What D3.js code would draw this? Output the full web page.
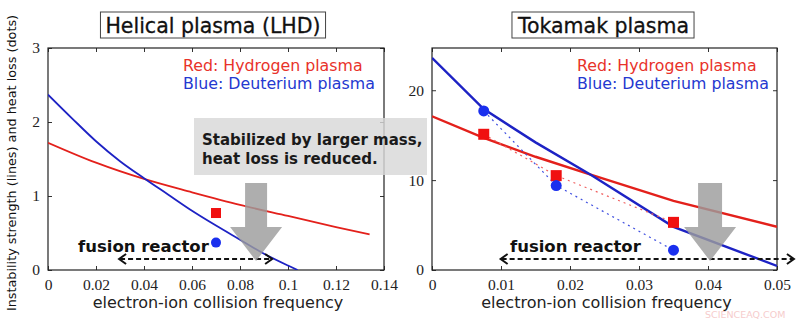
<!DOCTYPE html>
<html>
<head>
<meta charset="utf-8">
<script src="https://cdn.jsdelivr.net/npm/d3@7"></script>
<style>
  body { margin: 0; background: #fff; }
  svg { display: block; }
</style>
</head>
<body>
<svg id="chart" width="800" height="325"></svg>
<script>
// Helical (LHD) panel
const helicalX = [0, 0.01, 0.02, 0.03, 0.04, 0.05, 0.06, 0.07, 0.08, 0.09, 0.1, 0.104];
const helicalBlue = [2.37, 2.05, 1.74, 1.47, 1.24, 1.02, 0.80, 0.60, 0.41, 0.22, 0.06, 0];
const helicalRedX = [0, 0.02, 0.04, 0.06, 0.08, 0.1, 0.12, 0.134];
const helicalRed = [1.72, 1.45, 1.23, 1.05, 0.88, 0.73, 0.58, 0.48];
const helicalDotX = [0.07];
const helicalDotRed = [0.77];
const helicalDotBlue = [0.37];
const helicalXTicks = [0, 0.02, 0.04, 0.06, 0.08, 0.1, 0.12, 0.14];
const helicalYTicks = [0, 1, 2, 3];

// Tokamak panel
const tokX = [0, 0.0075, 0.015, 0.023, 0.035, 0.05];
const tokBlue = [23.6, 17.9, 14.2, 10.6, 4.8, 0.45];
const tokRed = [17.1, 14.7, 12.6, 10.6, 7.7, 4.8];
const tokDotX = [0.0075, 0.018, 0.035];
const tokDotRed = [15.1, 10.5, 5.3];
const tokDotBlue = [17.7, 9.4, 2.2];
const tokXTicks = [0, 0.01, 0.02, 0.03, 0.04, 0.05];
const tokYTicks = [0, 10, 20];

const RED = '#e3201b', BLUE = '#1d22c4';
const DOT_RED = '#f01010', DOT_BLUE = '#1a2fee';
const serif = '"Liberation Serif", "DejaVu Serif", serif';
const sans = '"DejaVu Sans", "Liberation Sans", sans-serif';

const svg = d3.select('#chart');

function panel(cfg) {
    const x = d3.scaleLinear().domain(cfg.xDomain).range([cfg.left, cfg.right]);
    const y = d3.scaleLinear().domain(cfg.yDomain).range([270, 48]);
    const g = svg.append('g');
    const fmt = d3.format('~g');

    // frame with inward ticks on all four sides
    g.append('g').attr('transform', 'translate(0,270)')
        .call(d3.axisBottom(x).tickValues(cfg.xTicks).tickSize(-4).tickPadding(9).tickFormat(fmt))
        .call(a => a.select('.domain').remove());
    g.append('g').attr('transform', 'translate(0,48)')
        .call(d3.axisTop(x).tickValues(cfg.xTicks).tickSize(-4).tickFormat(''))
        .call(a => a.select('.domain').remove());
    g.append('g').attr('transform', `translate(${cfg.left},0)`)
        .call(d3.axisLeft(y).tickValues(cfg.yTicks).tickSize(-4).tickPadding(8).tickFormat(fmt))
        .call(a => a.select('.domain').remove());
    g.append('g').attr('transform', `translate(${cfg.right},0)`)
        .call(d3.axisRight(y).tickValues(cfg.yTicks).tickSize(-4).tickFormat(''))
        .call(a => a.select('.domain').remove());
    g.selectAll('.tick line').attr('stroke', '#333');
    g.selectAll('.tick text').attr('font-family', serif).attr('font-size', 15.5).attr('fill', '#222');
    g.append('rect')
        .attr('x', cfg.left).attr('y', 48)
        .attr('width', cfg.right - cfg.left).attr('height', 222)
        .attr('fill', 'none').attr('stroke', '#222').attr('stroke-width', 1.2);

    const clip = 'clip-' + cfg.id;
    g.append('clipPath').attr('id', clip).append('rect')
        .attr('x', cfg.left).attr('y', 48).attr('width', cfg.right - cfg.left).attr('height', 222);

    const line = d3.line().x(d => x(d[0])).y(d => y(d[1])).curve(cfg.curve);
    g.append('path').datum(d3.zip(cfg.redX, cfg.red))
        .attr('d', line).attr('fill', 'none').attr('stroke', RED)
        .attr('stroke-width', cfg.lw).attr('clip-path', `url(#${clip})`);
    g.append('path').datum(d3.zip(cfg.blueX, cfg.blue))
        .attr('d', line).attr('fill', 'none').attr('stroke', BLUE)
        .attr('stroke-width', cfg.lw).attr('clip-path', `url(#${clip})`);

    // dotted links between measured points
    if (cfg.dotLinks) {
        const lin = d3.line().x(d => x(d[0])).y(d => y(d[1]));
        g.append('path').datum(d3.zip(cfg.dotX, cfg.dotRed)).attr('d', lin)
            .attr('fill', 'none').attr('stroke', '#f06060').attr('stroke-width', 1.2).attr('stroke-dasharray', '2,4');
        g.append('path').datum(d3.zip(cfg.dotX, cfg.dotBlue)).attr('d', lin)
            .attr('fill', 'none').attr('stroke', '#4050e0').attr('stroke-width', 1.2).attr('stroke-dasharray', '2,4');
    }

    g.selectAll('rect.sq').data(d3.zip(cfg.dotX, cfg.dotRed)).enter().append('rect')
        .attr('class', 'sq')
        .attr('x', d => x(d[0]) - cfg.ms / 2).attr('y', d => y(d[1]) - cfg.ms / 2)
        .attr('width', cfg.ms).attr('height', cfg.ms).attr('fill', DOT_RED);
    g.selectAll('circle.dot').data(d3.zip(cfg.dotX, cfg.dotBlue)).enter().append('circle')
        .attr('class', 'dot')
        .attr('cx', d => x(d[0])).attr('cy', d => y(d[1]))
        .attr('r', cfg.ms / 2).attr('fill', DOT_BLUE);

    // legend
    g.append('text').attr('x', cfg.legendX).attr('y', 71).text('Red: Hydrogen plasma')
        .attr('font-family', sans).attr('font-size', 15.8).attr('fill', '#e8322a');
    g.append('text').attr('x', cfg.legendX).attr('y', 89).text('Blue: Deuterium plasma')
        .attr('font-family', sans).attr('font-size', 15.8).attr('fill', '#2438d0');

    // title in a box
    const titleBox = g.append('rect');
    const title = g.append('text').attr('x', (cfg.left + cfg.right) / 2 + cfg.titleShift).attr('y', 33)
        .attr('text-anchor', 'middle').attr('font-family', sans).attr('font-size', 20.5)
        .attr('fill', '#111').attr('stroke', '#111').attr('stroke-width', 0.3).text(cfg.title);
    const tb = title.node().getBBox();
    titleBox
        .attr('x', tb.x - 5).attr('y', 12).attr('width', tb.width + 10).attr('height', 26)
        .attr('fill', '#fff').attr('stroke', '#444').attr('stroke-width', 1);

    // axis title
    g.append('text').attr('x', (cfg.left + cfg.right) / 2 + 2).attr('y', 308)
        .attr('text-anchor', 'middle').attr('font-family', sans).attr('font-size', 16)
        .attr('fill', '#222').text('electron-ion collision frequency');

    // fusion reactor range
    const ay = 259;
    const x0 = x(cfg.reactor[0]), x1 = x(cfg.reactor[1]);
    g.append('line').attr('x1', x0 + 2).attr('x2', x1 - 2).attr('y1', ay).attr('y2', ay)
        .attr('stroke', '#111').attr('stroke-width', 2).attr('stroke-dasharray', '5,3');
    g.append('path').attr('d', `M${x0 + 8},${ay - 5}L${x0 + 1},${ay}L${x0 + 8},${ay + 5}`)
        .attr('fill', 'none').attr('stroke', '#111').attr('stroke-width', 2);
    g.append('path').attr('d', `M${x1 - 8},${ay - 5}L${x1 - 1},${ay}L${x1 - 8},${ay + 5}`)
        .attr('fill', 'none').attr('stroke', '#111').attr('stroke-width', 2);
    g.append('text').attr('x', x(cfg.reactorText)).attr('y', 252)
        .attr('font-family', sans).attr('font-weight', 'bold').attr('font-size', 16.5)
        .attr('fill', '#111').text('fusion reactor');

    // grey downward arrow
    const cx = x(cfg.arrowX);
    const sw = cfg.shaft / 2, hw = cfg.head / 2;
    g.append('path')
        .attr('d', `M${cx - sw},183L${cx + sw},183L${cx + sw},227L${cx + hw},227L${cx},261L${cx - hw},227L${cx - sw},227Z`)
        .attr('fill', '#9c9c9c').attr('opacity', 0.82);

    return { x, y };
}

panel({
    id: 'lhd', left: 48, right: 384,
    xDomain: [0, 0.14], yDomain: [0, 3],
    xTicks: helicalXTicks, yTicks: helicalYTicks,
    redX: helicalRedX, red: helicalRed, blueX: helicalX, blue: helicalBlue,
    dotX: helicalDotX, dotRed: helicalDotRed, dotBlue: helicalDotBlue, dotLinks: false,
    curve: d3.curveMonotoneX, lw: 1.8, ms: 10,
    legendX: 183, title: 'Helical plasma (LHD)', titleShift: -3,
    reactor: [0.0292, 0.0938], reactorText: 0.0125,
    arrowX: 0.0867, shaft: 22, head: 52
});

panel({
    id: 'tok', left: 432, right: 777,
    xDomain: [0, 0.05], yDomain: [0, 24.7],
    xTicks: tokXTicks, yTicks: tokYTicks,
    redX: tokX, red: tokRed, blueX: tokX, blue: tokBlue,
    dotX: tokDotX, dotRed: tokDotRed, dotBlue: tokDotBlue, dotLinks: true,
    curve: d3.curveLinear, lw: 2.4, ms: 11,
    legendX: 577, title: 'Tokamak plasma', titleShift: -1,
    reactor: [0.0098, 0.0526], reactorText: 0.0113,
    arrowX: 0.0403, shaft: 24, head: 52
});

// stabilisation note (semi-transparent grey box across the panels)
const note = svg.append('g');
note.append('rect').attr('x', 194).attr('y', 118).attr('width', 233).attr('height', 57)
    .attr('fill', '#d8d8d8').attr('opacity', 0.82);
note.append('text').attr('x', 202).attr('y', 145)
    .attr('font-family', sans).attr('font-weight', 'bold').attr('font-size', 15).attr('fill', '#1a1a1a')
    .text('Stabilized by larger mass,');
note.append('text').attr('x', 202).attr('y', 164)
    .attr('font-family', sans).attr('font-weight', 'bold').attr('font-size', 15).attr('fill', '#1a1a1a')
    .text('heat loss is reduced.');

// shared y-axis title
svg.append('text').attr('transform', 'translate(16,163) rotate(-90)')
    .attr('text-anchor', 'middle').attr('font-family', sans).attr('font-size', 12.8)
    .attr('fill', '#111').text('Instability strength (lines) and heat loss (dots)');

// watermark
svg.append('text').attr('x', 705).attr('y', 318)
    .attr('font-family', sans).attr('font-size', 9.5).attr('fill', '#f6cccc')
    .text('SCIENCEAQ.COM');
</script>
</body>
</html>
